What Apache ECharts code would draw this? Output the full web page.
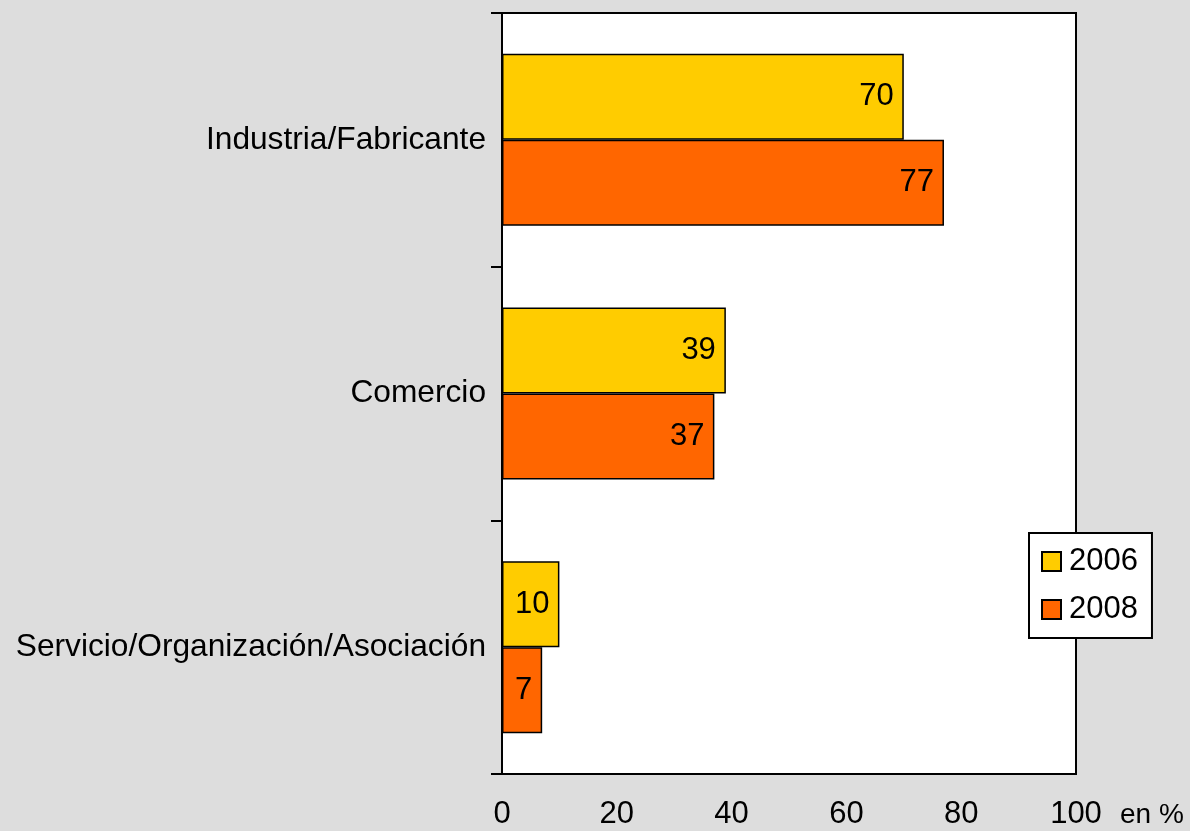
<!DOCTYPE html>
<html>
<head>
<meta charset="utf-8">
<title>Industria / Comercio / Servicio</title>
<script src="https://cdn.jsdelivr.net/npm/echarts@6/dist/echarts.min.js"></script>
<style>
  html, body { margin: 0; padding: 0; background: #dddddd; }
  #mychart { width: 1190px; height: 831px; }
</style>
</head>
<body>
<div id="mychart"></div>
<script>
// datos del gráfico
const categories = ['Industria/Fabricante', 'Comercio', 'Servicio/Organización/Asociación']
const data2006 = [70, 39, 10]
const data2008 = [77, 37, 7]
const xTicks = [0, 20, 40, 60, 80, 100]

const font = 'Liberation Sans, Arial, sans-serif'
const fs = 31

const option = {
  backgroundColor: '#dddddd',
  animation: false,
  textStyle: { fontFamily: font },
  grid: {
    left: 502,
    right: 114,
    top: 13,
    bottom: 57,
    outerBoundsMode: 'none',
    containLabel: false,
    show: true,
    backgroundColor: '#ffffff',
    borderColor: '#000000',
    borderWidth: 2
  },
  legend: {
    orient: 'vertical',
    left: 1029,
    top: 533,
    padding: [13, 14, 13, 12],
    itemGap: 17,
    itemWidth: 19,
    itemHeight: 19,
    icon: 'rect',
    backgroundColor: '#ffffff',
    borderColor: '#000000',
    borderWidth: 2,
    textStyle: { fontSize: fs, color: '#000', fontFamily: font, padding: [0, 0, 0, 3] },
    data: ['2006', '2008']
  },
  xAxis: {
    type: 'value',
    min: xTicks[0],
    max: xTicks[xTicks.length - 1],
    interval: 20,
    name: 'en %',
    nameLocation: 'end',
    nameGap: 44,
    nameTextStyle: { fontSize: 28, color: '#000', align: 'left', verticalAlign: 'top', padding: [27, 0, 0, 0] },
    axisLine: { show: true, lineStyle: { color: '#000', width: 2 } },
    axisTick: { show: false },
    splitLine: { show: false },
    axisLabel: { fontSize: fs, color: '#000', margin: 25 }
  },
  yAxis: {
    type: 'category',
    inverse: true,
    data: categories,
    axisLine: { show: true, lineStyle: { color: '#000', width: 2 } },
    axisTick: { show: true, length: 11, lineStyle: { color: '#000', width: 2 } },
    axisLabel: { fontSize: 31.7, color: '#000', margin: 16 }
  },
  series: [
    {
      name: '2006',
      type: 'bar',
      data: data2006,
      barWidth: 86,
      barGap: '0%',
      itemStyle: { color: '#ffcc00', borderColor: '#000', borderWidth: 1.5 },
      label: { show: true, position: 'insideRight', distance: 10, fontSize: fs, color: '#000' }
    },
    {
      name: '2008',
      type: 'bar',
      data: data2008,
      barWidth: 86,
      barGap: '0%',
      itemStyle: { color: '#ff6600', borderColor: '#000', borderWidth: 1.5 },
      label: { show: true, position: 'insideRight', distance: 10, fontSize: fs, color: '#000' }
    }
  ]
}

const myChart = echarts.init(document.getElementById('mychart'))
myChart.setOption(option)
window.addEventListener('resize', () => {
  myChart.resize()
})
</script>
</body>
</html>
